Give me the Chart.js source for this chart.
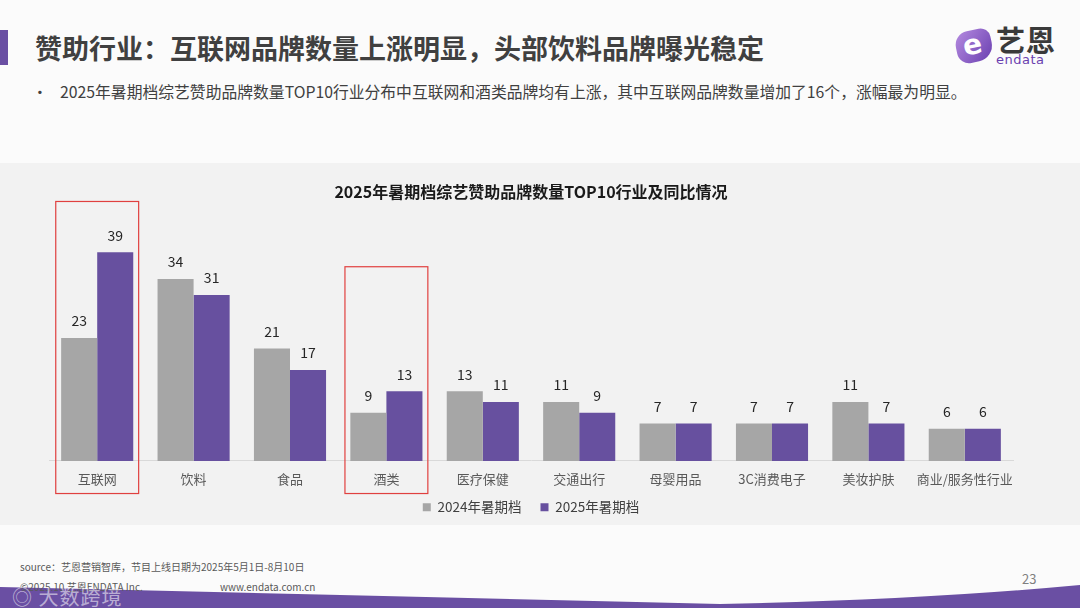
<!DOCTYPE html>
<html><head><meta charset="utf-8">
<script src="https://cdn.jsdelivr.net/npm/chart.js@4.4.1/dist/chart.umd.min.js"></script>
<style>
html,body{margin:0;padding:0;}
body{width:1080px;height:608px;position:relative;overflow:hidden;background:#fbfbfb;font-family:"Noto Sans CJK SC","Noto Sans",sans-serif;}
.bar{position:absolute;left:0;top:30px;width:8px;height:35px;background:#6a4fa3;}
.title{position:absolute;left:35px;top:28px;font-size:27px;font-weight:bold;color:#404040;letter-spacing:0px;white-space:nowrap;line-height:40px;}
.sub{position:absolute;left:32px;top:80px;font-size:15.8px;color:#404040;white-space:nowrap;line-height:24px;}
.sub .dot{display:inline-block;width:28px;}
.panel{position:absolute;left:0;top:163px;width:1080px;height:362px;background:#f2f2f2;}
#wrap{position:absolute;left:0;top:163px;width:1080px;height:362px;}
.logo{position:absolute;left:952px;top:26px;width:120px;height:44px;}
.logo .icon{position:absolute;left:4px;top:4px;width:36px;height:32px;border-radius:14px 10px 16px 12px;background:linear-gradient(135deg,#b58be0,#6a3fb0);transform:rotate(-12deg);}
.logo .icon span{position:absolute;left:7px;top:-1px;color:#fff;font-size:28px;font-weight:bold;font-family:"DejaVu Sans",sans-serif;line-height:32px;}
.logo .cn{position:absolute;left:44px;top:-4px;font-size:29px;font-weight:bold;color:#3a3a3a;letter-spacing:1px;line-height:34px;}
.logo .en{position:absolute;left:44px;top:27px;font-size:13px;color:#6a3fb0;font-family:"DejaVu Sans",sans-serif;line-height:14px;letter-spacing:0.5px;}
.src{position:absolute;left:20px;top:559px;font-size:10px;color:#595959;white-space:nowrap;}
.copy{position:absolute;left:20px;top:579px;font-size:10px;color:#595959;white-space:nowrap;}
.web{position:absolute;left:220px;top:579px;font-size:10px;color:#595959;white-space:nowrap;}
.wm{position:absolute;left:12px;top:582px;font-size:20px;color:rgba(255,255,255,0.55);white-space:nowrap;letter-spacing:1px;}
.pg{position:absolute;left:1022px;top:569px;font-size:13px;color:#7f7f7f;}
svg.wave{position:absolute;left:0;top:570px;}
</style></head>
<body>
<div class="bar"></div>
<div class="title">赞助行业：互联网品牌数量上涨明显，头部饮料品牌曝光稳定</div>
<div class="sub"><span class="dot">•</span>2025年暑期档综艺赞助品牌数量TOP10行业分布中互联网和酒类品牌均有上涨，其中互联网品牌数量增加了16个，涨幅最为明显。</div>
<div class="logo"><div class="icon"><span>e</span></div><div class="cn">艺恩</div><div class="en">endata</div></div>
<div class="panel"></div>
<div id="wrap"><canvas id="c"></canvas></div>
<svg class="wave" width="1080" height="38" viewBox="0 570 1080 38"><path d="M0,587 Q380,596 720,604 Q920,600 1080,585 L1080,608 L0,608 Z" fill="#6a4fa3"/></svg>
<div class="src">source：艺恩营销智库，节目上线日期为2025年5月1日-8月10日</div>
<div class="copy">©2025.10 艺恩ENDATA Inc.</div>
<div class="web">www.endata.com.cn</div>
<div class="wm">◎ 大数跨境</div>
<div class="pg">23</div>
<script>
const categories = ['互联网','饮料','食品','酒类','医疗保健','交通出行','母婴用品','3C消费电子','美妆护肤','商业/服务性行业'];
const series2024 = [23,34,21,9,13,11,7,7,11,6];
const series2025 = [39,31,17,13,11,9,7,7,7,6];
const seriesNames = ['2024年暑期档','2025年暑期档'];
const chartTitle = '2025年暑期档综艺赞助品牌数量TOP10行业及同比情况';
const highlightIndex = [0,3];
const highlightTop = [48.5,36.3];
const highlightBottom = -6.1;

const valueLabels = {
  id:'valueLabels',
  afterDatasetsDraw(chart){
    const ctx = chart.ctx;
    ctx.save();
    ctx.font = '14px "Noto Sans CJK SC", sans-serif';
    ctx.fillStyle = '#262626';
    ctx.textAlign = 'center';
    ctx.textBaseline = 'middle';
    chart.data.datasets.forEach((ds,i)=>{
      chart.getDatasetMeta(i).data.forEach((bar,j)=>{
        ctx.fillText(String(ds.data[j]), bar.x, bar.y-17);
      });
    });
    ctx.restore();
  }
};
const highlightBoxes = {
  id:'highlightBoxes',
  afterDraw(chart){
    const ctx = chart.ctx, x = chart.scales.x, y = chart.scales.y;
    const w = (x.getPixelForValue(1)-x.getPixelForValue(0));
    ctx.save();
    ctx.strokeStyle = '#e0403f';
    ctx.lineWidth = 1.2;
    highlightIndex.forEach((idx,k)=>{
      const cx = x.getPixelForValue(idx);
      const t = y.getPixelForValue(highlightTop[k]);
      const b = y.getPixelForValue(highlightBottom);
      ctx.strokeRect(cx-w*0.43, t, w*0.86, b-t);
    });
    ctx.restore();
  }
};

new Chart(document.getElementById('c'),{
  type:'bar',
  data:{labels:categories,datasets:[
    {label:seriesNames[0],data:series2024,backgroundColor:'#a6a6a6'},
    {label:seriesNames[1],data:series2025,backgroundColor:'#67509f'}
  ]},
  options:{
    responsive:true,maintainAspectRatio:false,animation:false,
    devicePixelRatio:1,
    layout:{padding:{left:49,right:67,top:0,bottom:1}},
    datasets:{bar:{barPercentage:1,categoryPercentage:0.748}},
    plugins:{
      title:{display:true,text:chartTitle,color:'#1a1a1a',font:{size:16,weight:'bold',family:'"Noto Sans CJK SC", sans-serif'},padding:{top:19,bottom:19}},
      legend:{position:'bottom',labels:{boxWidth:8,boxHeight:8,padding:19,color:'#404040',font:{size:13.5,family:'"Noto Sans CJK SC", sans-serif'}}},
      tooltip:{enabled:false}
    },
    scales:{
      x:{grid:{display:false,drawTicks:false},border:{display:true,color:'#d9d9d9'},
         afterFit(s){ s.height = s.height - 15; s._computeLabelArea = function(){ return null; }; },
         ticks:{padding:10,autoSkip:false,minRotation:0,maxRotation:0,color:'#595959',font:{size:13,family:'"Noto Sans CJK SC", sans-serif'}}},
      y:{display:false,min:0,max:45}
    }
  },
  plugins:[valueLabels,highlightBoxes]
});
</script>
</body></html>
